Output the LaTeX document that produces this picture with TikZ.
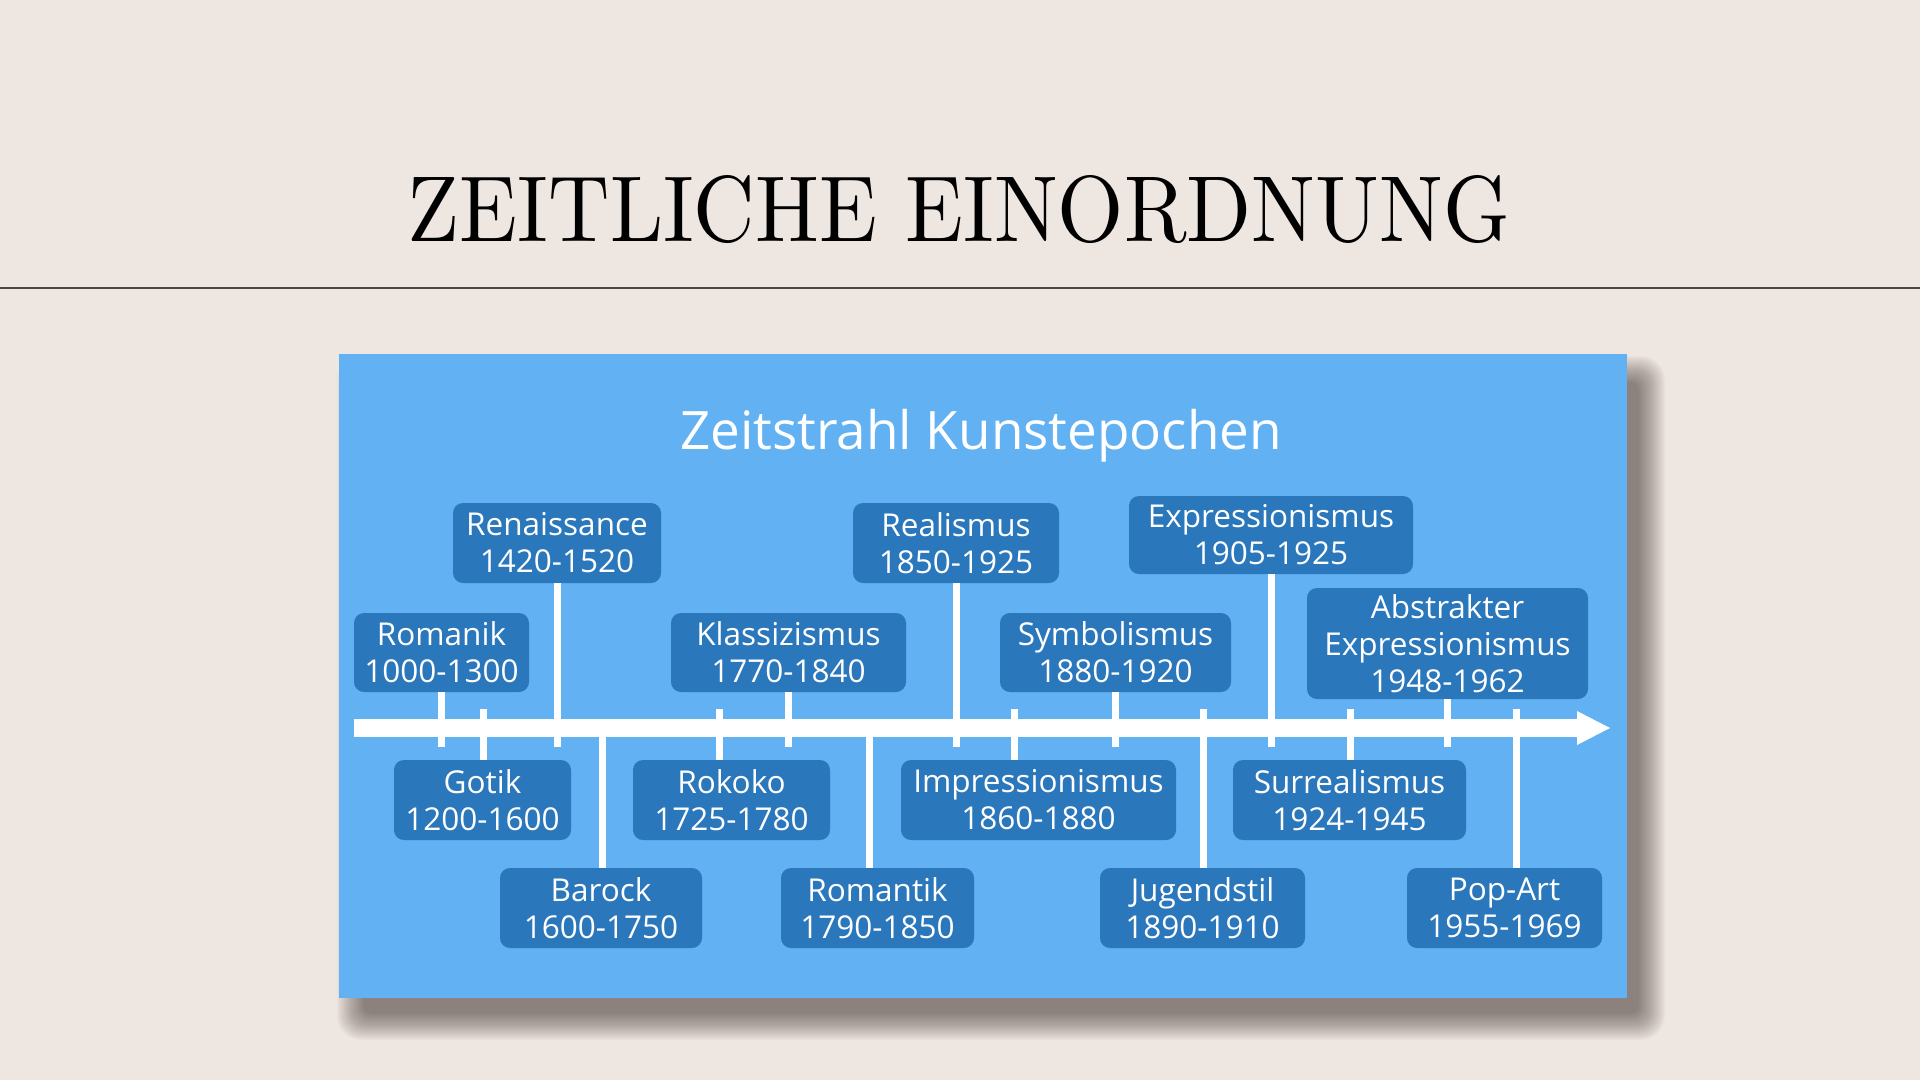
\documentclass[tikz,border=0pt]{standalone}
\usepackage{fontspec}
\usepackage{graphicx}
\newfontfamily\osans{Open Sans}
\definecolor{bg}{HTML}{EEE6E1}
\definecolor{panelblue}{HTML}{62B1F2}
\definecolor{boxblue}{HTML}{2A77BC}
\definecolor{rulegray}{HTML}{4A4646}
\definecolor{shadowcol}{HTML}{3A2E28}
\begin{document}
\begin{tikzpicture}[x=1pt,y=-1pt,
  epoch/.style={fill=boxblue, rounded corners=10pt, inner sep=0pt, text=white,
    align=center, font=\osans\fontsize{31.5}{37}\selectfont, minimum height=80pt},
  tickline/.style={white, line width=7pt}]
\useasboundingbox (0,0) rectangle (1920,1080);
\fill[bg] (0,0) rectangle (1920,1080);

% title and rule
\node[anchor=base, inner sep=0pt] (title) at (959,241)
  {\resizebox{1102pt}{66pt}{ZEITLICHE EINORDNUNG}};
\draw[rulegray, line width=1.6pt] (0,288) -- (1920,288);

% panel shadow (layered, soft)
\foreach \i in {0,...,27}{
  \pgfmathsetmacro{\e}{20-\i}
  \pgfmathsetmacro{\rc}{max(2,12+0.6*\e)}
  \fill[shadowcol, opacity=0.022, rounded corners=\rc pt]
    (339+18-\e,354+22-\e) rectangle (1627+18+\e,998+22+\e);
}
% panel
\fill[panelblue] (339,354) rectangle (1627,998);

\node[anchor=base, inner sep=0pt, text=white, font=\osans\fontsize{53}{64}\selectfont]
  (ptitle) at (981,449) {Zeitstrahl Kunstepochen};

% axis arrow
\coordinate (astart) at (354,728);
\coordinate (aend) at (1580,728);
\coordinate (atip) at (1610,728);
\draw[white, line width=18pt] (astart) -- (aend);
\fill[white] (1577,711) -- (atip) -- (1577,745) -- cycle;

% level coordinates
\coordinate (lowend) at (0,747);
\coordinate (highend) at (0,709);
\coordinate (axis) at (0,728);

% upper boxes
\node[epoch, minimum width=175pt, minimum height=79pt] (romanik) at (441.5,652.5) {Romanik\\1000-1300};
\node[epoch, minimum width=208pt] (renaissance) at (557,543) {Renaissance\\1420-1520};
\node[epoch, minimum width=235pt, minimum height=79pt] (klassizismus) at (788.5,652.5) {Klassizismus\\1770-1840};
\node[epoch, minimum width=206pt] (realismus) at (956,543) {Realismus\\1850-1925};
\node[epoch, minimum width=231pt, minimum height=79pt] (symbolismus) at (1115.5,652.5) {Symbolismus\\1880-1920};
\node[epoch, minimum width=284pt, minimum height=78pt] (expressionismus) at (1271,535) {Expressionismus\\1905-1925};
\node[epoch, minimum width=281pt, minimum height=111pt] (abstrakter) at (1447.5,643.5) {Abstrakter\\Expressionismus\\1948-1962};

% lower boxes, first tier
\node[epoch, minimum width=177pt] (gotik) at (482.5,800) {Gotik\\1200-1600};
\node[epoch, minimum width=197pt] (rokoko) at (731.5,800) {Rokoko\\1725-1780};
\node[epoch, minimum width=275pt] (impressionismus) at (1038.5,800) {Impressionismus\\1860-1880};
\node[epoch, minimum width=233pt] (surrealismus) at (1349.5,800) {Surrealismus\\1924-1945};

% lower boxes, second tier
\node[epoch, minimum width=202pt] (barock) at (601,908) {Barock\\1600-1750};
\node[epoch, minimum width=193pt] (romantik) at (877.5,908) {Romantik\\1790-1850};
\node[epoch, minimum width=205pt] (jugendstil) at (1202.5,908) {Jugendstil\\1890-1910};
\node[epoch, minimum width=195pt] (popart) at (1504.5,908) {Pop-Art\\1955-1969};

% ticks from upper boxes
\draw[tickline] (romanik.south) -- (romanik.south |- lowend);
\draw[tickline] (renaissance.south) -- (renaissance.south |- lowend);
\draw[tickline] (klassizismus.south) -- (klassizismus.south |- lowend);
\draw[tickline] (realismus.south) -- (realismus.south |- lowend);
\draw[tickline] (symbolismus.south) -- (symbolismus.south |- lowend);
\draw[tickline] (expressionismus.south) -- (expressionismus.south |- lowend);
\draw[tickline] (abstrakter.south) -- (abstrakter.south |- lowend);

% ticks to lower boxes
\coordinate (tGot) at (483,709);
\coordinate (tRok) at (719,709);
\coordinate (tImp) at (1014,709);
\coordinate (tSur) at (1350,709);
\coordinate (tBar) at (602,728);
\coordinate (tRom) at (869,728);
\coordinate (tJug) at (1203,709);
\coordinate (tPop) at (1516,709);
\draw[tickline] (tGot) -- (tGot |- gotik.north);
\draw[tickline] (tRok) -- (tRok |- rokoko.north);
\draw[tickline] (tImp) -- (tImp |- impressionismus.north);
\draw[tickline] (tSur) -- (tSur |- surrealismus.north);
\draw[tickline] (tBar) -- (tBar |- barock.north);
\draw[tickline] (tRom) -- (tRom |- romantik.north);
\draw[tickline] (tJug) -- (tJug |- jugendstil.north);
\draw[tickline] (tPop) -- (tPop |- popart.north);
\end{tikzpicture}
\end{document}
